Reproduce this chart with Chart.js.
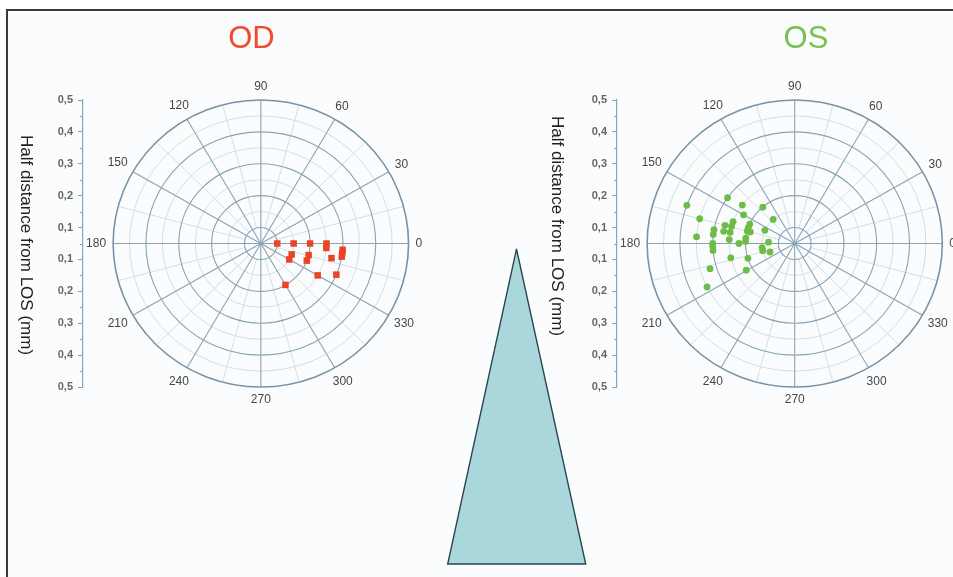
<!DOCTYPE html>
<html>
<head>
<meta charset="utf-8">
<title>OD / OS polar plots</title>
<script src="https://cdn.jsdelivr.net/npm/chart.js@4.4.1/dist/chart.umd.min.js"></script>
<style>
  html, body { margin: 0; padding: 0; background: #fff; overflow: hidden; }
  #page { position: relative; width: 953px; height: 577px; overflow: hidden; }
  #frame { position: absolute; left: 6px; top: 9px; width: 960px; height: 580px;
           border-left: 2px solid #3a3a3a; border-top: 2px solid #3a3a3a; background: #fbfcfd; }
  canvas { position: absolute; top: 0; }
  #odChart { left: 0; }
  #osChart { left: 477px; }
  #cone { position: absolute; left: 0; top: 0; }
</style>
</head>
<body>
<div id="page">
  <div id="frame"></div>
  <canvas id="odChart" width="503" height="577"></canvas>
  <canvas id="osChart" width="658" height="577"></canvas>
  <svg id="cone" width="953" height="577">
    <polygon points="516.5,249 447.7,564 585.7,564" fill="#a9d7db" stroke="#2c4550" stroke-width="1.4" />
  </svg>
</div>
<script>
/* ---- data (radius in mm, angle in degrees) ---- */
const R0 = 0.05;                              // radius value at the pole
const radialTicks = [0.1, 0.2, 0.3, 0.4, 0.5];
const radialMinor = [0.05, 0.15, 0.25, 0.35, 0.45];
const angleTicks = [0, 30, 60, 90, 120, 150, 180, 210, 240, 270, 300, 330];

const odRadius = [0.10, 0.15, 0.20, 0.25, 0.25, 0.30, 0.30, 0.30, 0.27, 0.15, 0.15, 0.20, 0.20, 0.25, 0.30, 0.20];
const odAngle  = [0, 0, 0, 0, 356, 355.5, 353, 350.5, 348, 340, 330, 346, 339, 330, 337, 300];

const osRadius = [0.40, 0.30, 0.25, 0.20, 0.35, 0.23, 0.15, 0.25, 0.27, 0.25, 0.20, 0.30,
                  0.27, 0.25, 0.20, 0.19, 0.20, 0.15, 0.30, 0.35, 0.25, 0.20, 0.20, 0.22,
                  0.30, 0.30, 0.30, 0.13, 0.15, 0.15, 0.13, 0.25, 0.20, 0.32, 0.22, 0.35];
const osAngle  = [160, 145, 143, 130.5, 165, 150, 131, 160, 165, 164.5, 156, 170,
                  170, 170, 160.5, 165, 165, 155.5, 173.5, 176, 176.5, 173.5, 177.5, 180,
                  180, 182, 185, 177, 187.5, 193, 199.5, 193, 198, 197, 209.5, 207];

const gridMajor = '#89a3b6';
const gridMinor = '#d0dfe9';
const axisColor = '#86a6bc';

function toXY(radius, angle) {
    return radius.map((r, i) => {
        const a = angle[i] * Math.PI / 180;
        return { x: (r - R0) * Math.cos(a), y: (r - R0) * Math.sin(a) };
    });
}

// polar rings, spokes and angle labels drawn from the x/y scales
const polarGrid = {
    id: 'polarGrid',
    beforeDatasetsDraw(chart) {
        const { ctx, scales: { x, y } } = chart;
        const cx = x.getPixelForValue(0), cy = y.getPixelForValue(0);
        const rx = r => x.getPixelForValue(r - R0) - cx;
        const ry = r => cy - y.getPixelForValue(r - R0);
        const rMax = radialTicks[radialTicks.length - 1];
        const ring = (r, color, w) => {
            ctx.beginPath();
            ctx.ellipse(cx, cy, rx(r), ry(r), 0, 0, Math.PI * 2);
            ctx.strokeStyle = color; ctx.lineWidth = w; ctx.stroke();
        };
        const spoke = (deg, r1, r2, color, w) => {
            const a = deg * Math.PI / 180;
            ctx.beginPath();
            ctx.moveTo(cx + rx(r1) * Math.cos(a), cy - ry(r1) * Math.sin(a));
            ctx.lineTo(cx + rx(r2) * Math.cos(a), cy - ry(r2) * Math.sin(a));
            ctx.strokeStyle = color; ctx.lineWidth = w; ctx.stroke();
        };
        ctx.save();
        radialMinor.filter(r => r > R0).forEach(r => ring(r, gridMinor, 1));
        angleTicks.forEach(a => spoke(a + 15, radialTicks[0], rMax, gridMinor, 1));
        angleTicks.forEach(a => spoke(a, R0, rMax, gridMajor, 1.1));
        radialTicks.slice(0, -1).forEach(r => ring(r, gridMajor, 1.1));
        ring(rMax, '#7893a8', 1.6);

        ctx.font = '12px Arial';
        ctx.fillStyle = '#474747';
        ctx.textAlign = 'center';
        ctx.textBaseline = 'middle';
        angleTicks.forEach(deg => {
            const a = deg * Math.PI / 180;
            const c = Math.cos(a), s = Math.sin(a);
            const w = ctx.measureText(String(deg)).width;
            const off = 10 + Math.abs(c) * Math.max(0, w / 2 - 3) + Math.abs(s) * 3;
            ctx.fillText(String(deg), cx + (rx(rMax) + off) * c, cy - (ry(rMax) + off) * s);
        });
        ctx.restore();
    },
    afterDraw(chart, args, opts) {
        const { ctx, chartArea, scales: { y } } = chart;
        ctx.save();
        // minor ticks on the radial axis
        ctx.strokeStyle = axisColor;
        ctx.lineWidth = 1;
        radialMinor.forEach(m => {
            [1, -1].forEach(sgn => {
                const py = Math.round(y.getPixelForValue(sgn * (m - R0))) + 0.5;
                ctx.beginPath();
                ctx.moveTo(chartArea.left, py);
                ctx.lineTo(chartArea.left - 3, py);
                ctx.stroke();
            });
        });
        // axis title, reading top to bottom
        ctx.translate(opts.titleX, opts.titleY);
        ctx.rotate(Math.PI / 2);
        ctx.font = '17px Arial';
        ctx.fillStyle = '#222';
        ctx.textAlign = 'center';
        ctx.textBaseline = 'middle';
        ctx.fillText(opts.title, 0, 0);
        ctx.restore();
    }
};

function polarChart(id, cfg) {
    const rMax = radialTicks[radialTicks.length - 1];
    return new Chart(document.getElementById(id), {
        type: 'scatter',
        data: {
            datasets: [{
                label: cfg.title,
                data: toXY(cfg.radius, cfg.angle),
                pointStyle: cfg.pointStyle,
                pointRadius: cfg.pointRadius,
                backgroundColor: cfg.color,
                borderColor: cfg.color,
                borderWidth: 0,
            }],
        },
        options: {
            responsive: false,
            animation: false,
            events: [],
            layout: { padding: { top: 21, bottom: 190, left: 40, right: 40 } },
            plugins: {
                legend: { display: false },
                tooltip: { enabled: false },
                title: {
                    display: true,
                    text: cfg.title,
                    color: cfg.titleColor,
                    font: { family: 'Arial', size: 31, weight: 'normal' },
                    padding: { top: 0, bottom: 41.8 },
                },
                polarGrid: { title: 'Half distance from LOS (mm)', titleX: cfg.axisTitleX, titleY: cfg.axisTitleY },
            },
            scales: {
                x: { type: 'linear', display: false, min: -0.5418, max: cfg.xMax },
                y: {
                    type: 'linear',
                    min: -(rMax - R0), max: rMax - R0,
                    afterBuildTicks: s => {
                        s.ticks = radialTicks
                            .flatMap(t => [{ value: R0 - t }, { value: t - R0 }])
                            .sort((a, b) => a.value - b.value);
                    },
                    afterFit: s => { s.width = cfg.axisWidth; },
                    ticks: {
                        autoSkip: false,
                        padding: 5,
                        color: '#666',
                        font: { family: 'Arial', size: 11, weight: 'bold' },
                        callback: v => (Math.abs(v) + R0).toFixed(1).replace('.', ','),
                    },
                    grid: { drawOnChartArea: false, tickLength: 5, tickColor: axisColor, tickWidth: 1 },
                    border: { color: axisColor, width: 1.2 },
                },
            },
        },
        plugins: [polarGrid],
    });
}

polarChart('odChart', {
    title: 'OD', titleColor: '#f04b2d',
    radius: odRadius, angle: odAngle,
    pointStyle: 'rect', pointRadius: 4.6, color: '#ec4226',
    xMax: 0.6159, axisWidth: 43, axisTitleX: 26, axisTitleY: 245,
});

polarChart('osChart', {
    title: 'OS', titleColor: '#78c152',
    radius: osRadius, angle: osAngle,
    pointStyle: 'circle', pointRadius: 3.4, color: '#6cbd45',
    xMax: 0.9155, axisWidth: 100, axisTitleX: 79.5, axisTitleY: 226,
});
</script>
</body>
</html>
